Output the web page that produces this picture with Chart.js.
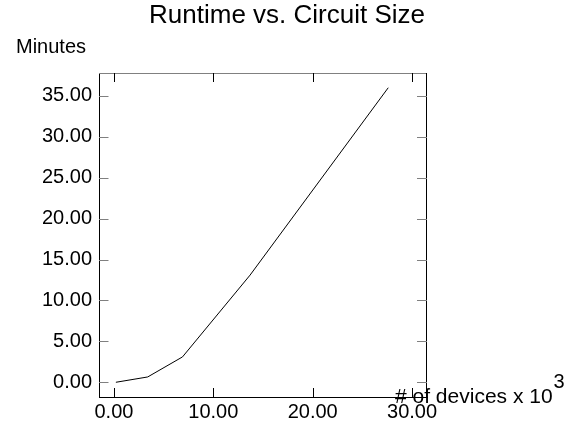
<!DOCTYPE html>
<html>
<head>
<meta charset="utf-8">
<script src="https://cdn.jsdelivr.net/npm/chart.js@4.4.1/dist/chart.umd.min.js"></script>
<style>
  html, body { margin: 0; padding: 0; background: #ffffff; }
  #wrap { width: 574px; height: 425px; position: relative; }
</style>
</head>
<body>
<div id="wrap"><canvas id="c" width="574" height="425"></canvas></div>
<script>
const titleText = "Runtime vs. Circuit Size";
const yAxisLabel = "Minutes";
const xAxisLabel = "# of devices x 10";
const xAxisExponent = "3";
const devices = [0.2, 3.4, 6.9, 13.7, 27.6];
const minutes = [0.0, 0.65, 3.1, 13.1, 36.0];
const xTicks = [0, 10, 20, 30];
const yTicks = [0, 5, 10, 15, 20, 25, 30, 35];

const FONT = "'Liberation Sans', Arial, Helvetica, sans-serif";

const decor = {
  id: 'decor',
  afterDraw(chart) {
    const ctx = chart.ctx;
    const a = chart.chartArea;
    const xs = chart.scales.x, ys = chart.scales.y;
    ctx.save();
    ctx.lineWidth = 1;
    ctx.strokeStyle = '#808080';
    ctx.beginPath();
    ctx.moveTo(a.left, a.top + 0.5); ctx.lineTo(a.right, a.top + 0.5);
    ctx.stroke();
    ctx.strokeStyle = '#000000';
    ctx.beginPath();
    ctx.moveTo(a.right - 0.5, a.top); ctx.lineTo(a.right - 0.5, a.bottom);
    ctx.stroke();
    ctx.strokeStyle = '#808080';
    ys.ticks.forEach(t => {
      const y = Math.round(ys.getPixelForValue(t.value)) + 0.5;
      ctx.beginPath();
      ctx.moveTo(a.left, y); ctx.lineTo(a.left + 9.5, y);
      ctx.moveTo(a.right - 10, y); ctx.lineTo(a.right, y);
      ctx.stroke();
    });
    ctx.strokeStyle = '#000000';
    xs.ticks.forEach(t => {
      const x = Math.round(xs.getPixelForValue(t.value)) + 0.5;
      ctx.beginPath();
      ctx.moveTo(x, a.bottom); ctx.lineTo(x, a.bottom - 9);
      ctx.moveTo(x, a.top); ctx.lineTo(x, a.top + 9);
      ctx.stroke();
    });
    ctx.fillStyle = '#000000';
    ctx.textBaseline = 'alphabetic';
    ctx.font = '26px ' + FONT;
    ctx.textAlign = 'center';
    ctx.fillText(titleText, 287, 23);
    ctx.font = '20px ' + FONT;
    ctx.textAlign = 'left';
    ctx.fillText(yAxisLabel, 16, 52.5);
    ctx.font = '21px ' + FONT;
    ctx.fillText(xAxisLabel, 395, 403);
    const w = ctx.measureText(xAxisLabel).width;
    ctx.font = '20px ' + FONT;
    ctx.fillText(xAxisExponent, 395 + w + 1, 388);
    ctx.restore();
  }
};

new Chart(document.getElementById('c'), {
  type: 'scatter',
  data: {
    datasets: [{
      data: devices.map((d, i) => ({ x: d, y: minutes[i] })),
      showLine: true,
      borderColor: '#000000',
      borderWidth: 1,
      pointRadius: 0,
      pointHoverRadius: 0,
      tension: 0,
      fill: false
    }]
  },
  options: {
    responsive: false,
    animation: false,
    events: [],
    layout: { padding: { left: 0, right: 147, top: 73, bottom: 0 } },
    plugins: { legend: { display: false }, title: { display: false }, tooltip: { enabled: false } },
    scales: {
      x: {
        type: 'linear',
        min: -1.5, max: 31.5,
        afterFit(s) { s.height = 28; },
        afterBuildTicks(s) { s.ticks = xTicks.map(v => ({ value: v })); },
        grid: { display: false, drawTicks: false },
        border: { display: true, color: '#000000', width: 1 },
        ticks: {
          padding: 3,
          color: '#000000',
          font: { family: FONT, size: 20 },
          maxRotation: 0,
          callback: v => Number(v).toFixed(2)
        }
      },
      y: {
        type: 'linear',
        min: -1.8, max: 37.8,
        afterFit(s) { s.width = 99; },
        afterBuildTicks(s) { s.ticks = yTicks.map(v => ({ value: v })); },
        grid: { display: false, drawTicks: false },
        border: { display: true, color: '#000000', width: 1 },
        ticks: {
          padding: 7,
          color: '#000000',
          font: { family: FONT, size: 20 },
          callback: v => Number(v).toFixed(2)
        }
      }
    }
  },
  plugins: [decor]
});
</script>
</body>
</html>
